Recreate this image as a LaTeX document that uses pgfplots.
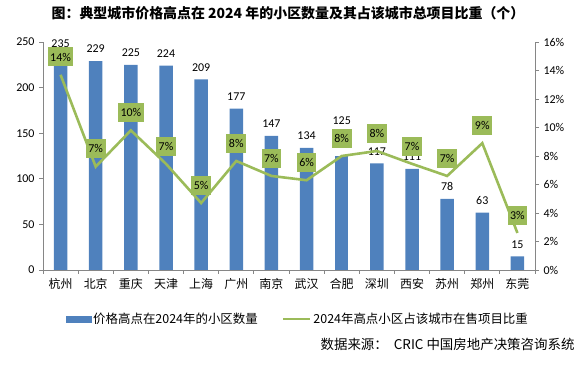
\documentclass[border=0pt]{standalone}
\usepackage{pgfplots}
\pgfplotsset{compat=1.18}
\usepackage{fontspec}
\setmainfont{Carlito}
\newfontfamily\cjk{Noto Sans CJK SC}
\definecolor{barblue}{HTML}{4F81BD}
\definecolor{linegreen}{HTML}{9BBB59}
\definecolor{axgray}{HTML}{868686}
\begin{document}
\begin{tikzpicture}
\path[use as bounding box] (0,0) rectangle (587bp,367bp);
\pgfplotsset{
 common/.style={at={(43bp,97bp)}, anchor=south west, scale only axis,
   width=492bp, height=228bp, xmin=-0.5, xmax=13.5, clip=false,
   /pgf/number format/assume math mode=true,
   tick label style={font=\fontsize{12}{14}\selectfont},
   tick align=outside, major tick length=4bp,
   axis line style={draw=axgray, line width=0.8bp},
   tick style={draw=axgray, line width=0.8bp}},
 barlab/.style={nodes near coords,
   every node near coord/.append style={font=\fontsize{12}{14}\selectfont, anchor=south, inner sep=2bp, yshift=#1, text=black}},
}
\begin{axis}[common, ymin=0, ymax=250, ytick={0,50,...,250},
  axis y line*=left, axis x line*=bottom,
  xtick={-0.5,0.5,...,13.5}, x tick label as interval,
  xticklabels={杭州,北京,重庆,天津,上海,广州,南京,武汉,合肥,深圳,西安,苏州,郑州,东莞},
  xticklabel style={font=\cjk\fontsize{12}{14}\selectfont, yshift=-1bp},
  yticklabel style={xshift=-1bp}]
\addplot[ybar, bar shift=0pt, bar width=13.5bp, fill=barblue, draw=none, barlab=6bp]
  coordinates {(0,235) (1,229) (2,225) (3,224) (4,209) (5,177) (6,147) (7,134) (9,117) (10,111) (11,78) (12,63) (13,15)};
\addplot[ybar, bar shift=0pt, bar width=13.5bp, fill=barblue, draw=none, barlab=29bp]
  coordinates {(8,125)};
\end{axis}
\begin{axis}[common, ymin=0, ymax=16, ytick={0,2,...,16},
  yticklabel={\pgfmathprintnumber{\tick}\%},
  axis y line*=right, axis x line=none,
  yticklabel style={xshift=1bp},
  legend columns=2,
  legend style={at={(0.518,-0.215)}, anchor=center, draw=none, fill=none,
    font=\cjk\fontsize{12.5}{15}\selectfont, inner sep=0pt,
    /tikz/every even column/.append style={column sep=22bp}},
  legend cell align=left]
\addlegendimage{legend image code/.code={\fill[barblue] (0bp,-3bp) rectangle (25bp,3bp);}}
\addlegendentry{价格高点在2024年的小区数量}
\addplot[linegreen, line width=2.6bp, no marks, point meta=explicit symbolic,
  nodes near coords,
  every node near coord/.append style={font=\fontsize{12}{14}\selectfont, anchor=south, fill=linegreen, text=black, minimum height=19bp, inner ysep=0bp, inner xsep=2.5bp, yshift=7bp},
  legend image code/.code={\draw[linegreen, line width=2.6bp] (0bp,0bp) -- (27bp,0bp);}]
  coordinates {(0,13.7) [14\%] (1,7.25) [7\%] (2,9.8) [10\%] (3,7.45) [7\%] (4,4.7) [5\%] (5,7.65) [8\%] (6,6.6) [7\%] (7,6.3) [6\%] (8,8.0) [8\%] (9,8.35) [8\%] (10,7.45) [7\%] (11,6.6) [7\%] (12,8.9) [9\%] (13,2.6) [3\%]};
\addlegendentry{2024年高点小区占该城市在售项目比重}
\end{axis}
\node[font=\cjk\bfseries\fontsize{14}{16}\selectfont] at (288bp,354bp) {图：典型城市价格高点在 2024 年的小区数量及其占该城市总项目比重（个）};
\node[anchor=east, font=\cjk\fontsize{13.5}{16}\selectfont] at (578bp,23bp) {数据来源：\ \ CRIC 中国房地产决策咨询系统};
\end{tikzpicture}
\end{document}
